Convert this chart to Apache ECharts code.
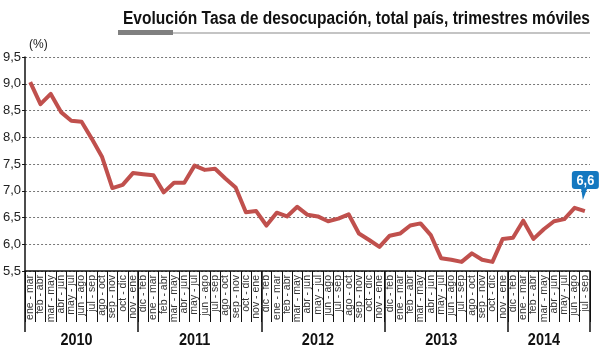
<!DOCTYPE html>
<html><head><meta charset="utf-8">
<script src="https://cdn.jsdelivr.net/npm/echarts@6/dist/echarts.min.js"></script>
<style>html,body{margin:0;padding:0;background:#fff}#c{width:600px;height:361px}</style>
</head><body><div id="c"></div>
<script>
var titleText = 'Evolución Tasa de desocupación, total país, trimestres móviles';
var categories = [
 'ene - mar','feb - abr','mar - may','abr - jun','may - jul','jun - ago','jul - sep','ago - oct','sep - nov','oct - dic','nov - ene',
 'dic - feb','ene - mar','feb - abr','mar - may','abr - jun','may - jul','jun - ago','jul - sep','ago - oct','sep - nov','oct - dic','nov - ene',
 'dic - feb','ene - mar','feb - abr','mar - may','abr - jun','may - jul','jun - ago','jul - sep','ago - oct','sep - nov','oct - dic','nov - ene',
 'dic - feb','ene - mar','feb - abr','mar - may','abr - jun','may - jul','jun - ago','jul - sep','ago - oct','sep - nov','oct - dic','nov - ene',
 'dic - feb','ene - mar','feb - abr','mar - may','abr - jun','may - jul','jun - ago','jul - sep'
];
var values = [
 9.03,8.62,8.81,8.47,8.31,8.29,7.97,7.63,7.05,7.11,7.33,
 7.31,7.29,6.97,7.15,7.15,7.47,7.39,7.41,7.23,7.06,6.60,6.62,
 6.35,6.59,6.52,6.70,6.55,6.52,6.43,6.48,6.56,6.20,6.08,5.95,
 6.16,6.20,6.35,6.39,6.17,5.74,5.71,5.67,5.83,5.71,5.67,6.10,
 6.12,6.44,6.10,6.28,6.43,6.47,6.68,6.62
];
var years = ['2010','2011','2012','2013','2014'];
var yearStart = [0,11,23,35,47];
var lastLabel = '6,6';

var cv = document.createElement('canvas').getContext('2d');
var FN='"Liberation Sans", Arial, sans-serif';
function measure(txt,font){cv.font=font;return cv.measureText(txt).width;}

var chart = echarts.init(document.getElementById('c'), null, {renderer:'canvas'});
var titleFont = 'bold 17.5px '+FN;
var titleScale = 467/measure(titleText,titleFont);
var opt = {
  animation:false,
  grid:{left:22,right:10,top:57,bottom:90,containLabel:false},
  xAxis:[{
    type:'category', data:categories, boundaryGap:true,
    axisLine:{show:true,lineStyle:{color:'#111',width:1.5}},
    axisTick:{show:true,interval:0,length:51,lineStyle:{color:'#111',width:1}},
    axisLabel:{interval:0,rotate:90,margin:4,fontFamily:FN,fontSize:10.5,color:'#333'},
    splitLine:{show:false}
  },{
    type:'category', data:categories, boundaryGap:true, position:'bottom',
    axisLine:{show:false},
    axisTick:{show:true,length:61,interval:function(i){return yearStart.indexOf(i)>=0;},lineStyle:{color:'#111',width:1.5}},
    axisLabel:{show:false}, splitLine:{show:false}
  }],
  yAxis:{
    type:'value', min:5.5, max:9.5, interval:0.5,
    name:'(%)', nameLocation:'end', nameGap:6,
    nameTextStyle:{fontFamily:FN,fontSize:12,color:'#222',align:'left',padding:[0,0,0,4]},
    axisLine:{show:true,lineStyle:{color:'#111',width:1.5}},
    axisTick:{show:true,length:3,lineStyle:{color:'#111'}},
    axisLabel:{margin:4,fontFamily:FN,fontSize:13,color:'#222',
      formatter:function(v){return v.toFixed(1).replace('.',',');}},
    splitLine:{show:true,lineStyle:{color:'#777',type:[2,2],width:1}}
  },
  series:[{
    type:'line', data:values, xAxisIndex:0, symbol:'none',
    lineStyle:{color:'#c0504d',width:4,join:'round'},
    label:{show:false}
  }],
  graphic:[
    {type:'text',x:590,y:19,scaleX:titleScale,style:{text:titleText,font:titleFont,fill:'#111',textAlign:'right',textVerticalAlign:'middle'}},
    {type:'rect',shape:{x:118,y:32.5,width:472,height:1},style:{fill:'#8a8a8a'}},
    {type:'rect',shape:{x:118,y:30,width:55,height:5},style:{fill:'#808080'}}
  ]
};
chart.setOption(opt);

var g = opt.graphic.slice();
for (var k=0;k<years.length;k++){
  var s = yearStart[k], e = (k+1<yearStart.length?yearStart[k+1]:categories.length)-1;
  var p0 = chart.convertToPixel({seriesIndex:0},[s, values[s]])[0];
  var p1 = chart.convertToPixel({seriesIndex:0},[e, values[e]])[0];
  g.push({type:'text',x:(p0+p1)/2-5,y:340,scaleX:0.85,style:{text:years[k],font:'bold 17px '+FN,fill:'#111',textAlign:'center',textVerticalAlign:'middle'}});
}
var n = values.length-1;
var lp = chart.convertToPixel({seriesIndex:0},[n, values[n]]);
g.push({type:'polygon',shape:{points:[[lp[0]-4,lp[1]-24],[lp[0]+3,lp[1]-24],[lp[0]-2,lp[1]-11]]},style:{fill:'#1478c0'}});
g.push({type:'rect',shape:{x:lp[0]-13,y:lp[1]-40,width:27,height:18,r:3},style:{fill:'#1478c0'}});
g.push({type:'text',x:lp[0]+0.5,y:lp[1]-30.5,scaleX:0.85,style:{text:lastLabel,font:'bold 15px '+FN,fill:'#fff',textAlign:'center',textVerticalAlign:'middle'}});
chart.setOption({graphic:g},{replaceMerge:['graphic']});
</script>
</body></html>
